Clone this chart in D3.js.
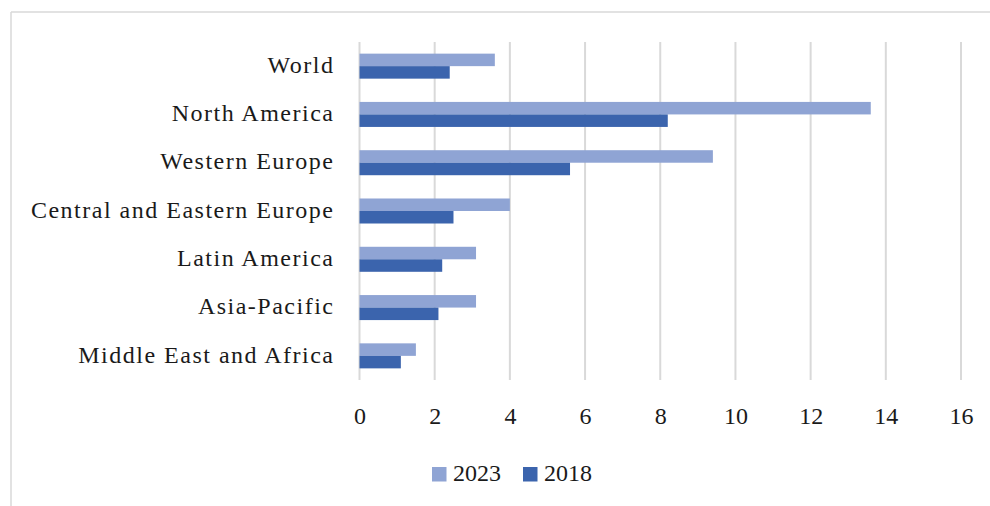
<!DOCTYPE html>
<html>
<head>
<meta charset="utf-8">
<script src="https://cdn.jsdelivr.net/npm/d3@7"></script>
<style>
  html, body { margin: 0; padding: 0; background: #fff; }
  svg { display: block; }
  text { font-family: "Liberation Serif", "Times New Roman", serif; fill: #1a1a1a; }
</style>
</head>
<body>
<svg id="chart" width="990" height="506"></svg>
<script>
// Regions, top to bottom
const regions = [
  "World",
  "North America",
  "Western Europe",
  "Central and Eastern Europe",
  "Latin America",
  "Asia-Pacific",
  "Middle East and Africa"
];
const seriesNames = ["2023", "2018"];
const values2023 = [3.6, 13.6, 9.4, 4.0, 3.1, 3.1, 1.5];
const values2018 = [2.4, 8.2, 5.6, 2.5, 2.2, 2.1, 1.1];
const xTicks = [0, 2, 4, 6, 8, 10, 12, 14, 16];
const seriesColors = ["#8fa4d4", "#3b64ad"];

const svg = d3.select("#chart");
const W = 990, H = 506;

// Chart frame
const frame = svg.append("g").attr("stroke", "#d9d9d9").attr("stroke-width", 1.5).attr("fill", "none");
frame.append("line").attr("x1", 11).attr("x2", W).attr("y1", 12).attr("y2", 12);
frame.append("line").attr("x1", 11).attr("x2", 11).attr("y1", 12).attr("y2", H);

const plot = { left: 359.5, right: 961, top: 42, bottom: 380 };

const x = d3.scaleLinear().domain([0, 16]).range([plot.left, plot.right]);
const y = d3.scaleBand().domain(regions).range([plot.top, plot.bottom])
  .paddingInner(0.482).paddingOuter(0.241);
const ySeries = d3.scaleBand().domain(seriesNames).range([0, y.bandwidth()]);

// Vertical gridlines
svg.append("g")
  .selectAll("line")
  .data(xTicks)
  .join("line")
  .attr("x1", d => x(d)).attr("x2", d => x(d))
  .attr("y1", plot.top).attr("y2", plot.bottom)
  .attr("stroke", "#d9d9d9")
  .attr("stroke-width", 2);

// Bars
const rows = regions.map((r, i) => ({ region: r, values: [values2023[i], values2018[i]] }));
const groups = svg.append("g").selectAll("g")
  .data(rows)
  .join("g")
  .attr("transform", d => `translate(0,${y(d.region)})`);

groups.selectAll("rect")
  .data(d => d.values.map((v, k) => ({ series: seriesNames[k], value: v, k })))
  .join("rect")
  .attr("x", x(0))
  .attr("y", d => ySeries(d.series))
  .attr("width", d => x(d.value) - x(0))
  .attr("height", ySeries.bandwidth())
  .attr("fill", d => seriesColors[d.k]);

// Category labels (slightly tracked out for a wider book-face look)
const yAxis = d3.axisLeft(y).tickSize(0).tickPadding(0);
const yAxisG = svg.append("g")
  .attr("transform", `translate(334.5,-1)`)
  .call(yAxis);
yAxisG.select(".domain").remove();
yAxisG.selectAll("text")
  .attr("font-size", 24)
  .attr("dy", "0.32em")
  .attr("letter-spacing", "1.5px")
  .attr("font-family", "Liberation Serif, serif")
  .attr("fill", "#1a1a1a");

// Value axis labels
const xAxis = d3.axisBottom(x).tickValues(xTicks).tickSize(0).tickPadding(0).tickFormat(d3.format("d"));
const xAxisG = svg.append("g")
  .attr("transform", `translate(0,${plot.bottom + 36})`)
  .call(xAxis);
xAxisG.select(".domain").remove();
xAxisG.selectAll("text")
  .attr("font-size", 24)
  .attr("y", 0)
  .attr("dy", "0.33em")
  .attr("font-family", "Liberation Serif, serif")
  .attr("fill", "#1a1a1a");

// Legend
const legendItems = [
  { name: seriesNames[0], color: seriesColors[0], x: 432 },
  { name: seriesNames[1], color: seriesColors[1], x: 523 }
];
const legend = svg.append("g").selectAll("g")
  .data(legendItems)
  .join("g")
  .attr("transform", d => `translate(${d.x},467)`);
legend.append("rect")
  .attr("width", 14.5).attr("height", 14.5)
  .attr("fill", d => d.color);
legend.append("text")
  .attr("x", 21).attr("y", 14)
  .attr("font-size", 24)
  .text(d => d.name);
</script>
</body>
</html>
